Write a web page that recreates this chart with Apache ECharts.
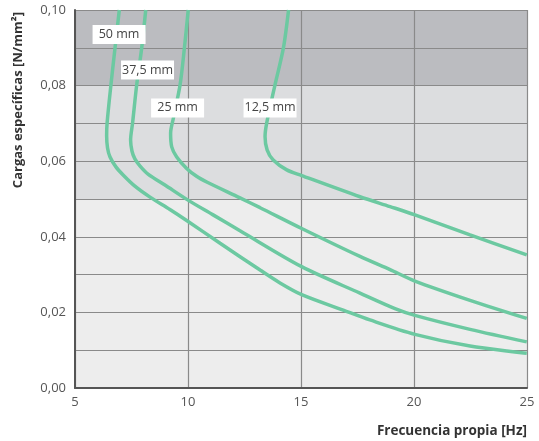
<!DOCTYPE html>
<html>
<head>
<meta charset="utf-8">
<script src="https://cdn.jsdelivr.net/npm/echarts@6/dist/echarts.min.js"></script>
<style>html,body{margin:0;padding:0;background:#fff}#c{width:539px;height:441px}</style>
</head>
<body>
<div id="c"></div>
<script>
// Curve data: [frequency Hz, load N/mm2]
const curve50 = [[6.96,0.1000],[6.77,0.0899],[6.59,0.0802],[6.42,0.0701],[6.40,0.0667],[6.44,0.0635],[6.55,0.0611],[6.81,0.0585],[7.14,0.0563],[7.65,0.0534],[8.32,0.0505],[9.20,0.0472],[9.94,0.0443],[11.42,0.0383],[13.19,0.0312],[14.07,0.0278],[15.03,0.0247],[16.87,0.0206],[18.05,0.0180],[20.04,0.0142],[22.48,0.0111],[24.99,0.0092]];
const curve375 = [[8.13,0.1000],[7.95,0.0899],[7.73,0.0802],[7.55,0.0702],[7.46,0.0656],[7.52,0.0627],[7.65,0.0606],[7.88,0.0587],[8.23,0.0566],[8.98,0.0537],[10.00,0.0497],[11.11,0.0458],[12.30,0.0416],[15.03,0.0321],[17.61,0.0251],[19.16,0.0210],[20.04,0.0192],[22.48,0.0155],[24.99,0.0122]];
const curve25 = [[10.01,0.1000],[9.84,0.0899],[9.65,0.0802],[9.35,0.0713],[9.23,0.0674],[9.28,0.0638],[9.50,0.0611],[9.94,0.0581],[10.38,0.0560],[10.83,0.0545],[12.30,0.0503],[13.19,0.0477],[15.03,0.0422],[17.61,0.0348],[18.94,0.0313],[20.04,0.0283],[22.48,0.0232],[24.99,0.0184]];
const curve125 = [[14.45,0.1000],[14.22,0.0899],[13.85,0.0802],[13.48,0.0700],[13.41,0.0665],[13.50,0.0630],[13.77,0.0603],[14.37,0.0577],[15.03,0.0562],[17.61,0.0506],[18.94,0.0480],[20.04,0.0458],[22.48,0.0405],[24.99,0.0352]];
const curveNames = ['50 mm','37,5 mm','25 mm','12,5 mm'];
const labelPos = [[6.95,0.0935],[8.21,0.0841],[9.54,0.0741],[13.63,0.0741]];
const bands = [[0,0.05,'#ededed'],[0.05,0.08,'#dcdddf'],[0.08,0.10,'#bbbcc0']];
const xTicks = [5,10,15,20,25];
const yTickLabels = ['0,00','0,02','0,04','0,06','0,08','0,10'];

const FONT = "'Open Sans', 'Noto Sans', sans-serif";
const GREEN = '#6cc9a1';
const chart = echarts.init(document.getElementById('c'), null, {renderer:'canvas'});
const curves = [curve50, curve375, curve25, curve125];
const series = [];
series.push({
  type:'custom', z:-5, silent:true,
  data: bands,
  renderItem: function(params, api){
    const cs = params.coordSys;
    const yTop = api.coord([5, api.value(1)])[1];
    const yBot = api.coord([5, api.value(0)])[1];
    return {type:'rect', shape:{x:cs.x, y:yTop, width:cs.width, height:yBot-yTop},
      style:{fill: bands[params.dataIndex][2]}};
  },
  encode:{x:-1, y:[0,1]}
});
curves.forEach((c,i)=>{
  series.push({type:'line', name:curveNames[i], data:c, smooth:0.3, showSymbol:false, symbol:'none',
    lineStyle:{color:GREEN, width:3.5}, z:3});
});
series.push({
  type:'scatter', symbolSize:0, z:5, itemStyle:{opacity:1},
  data: labelPos.map((p,i)=>({value:p, name:curveNames[i]})),
  label:{show:true, position:'inside', formatter: p=>p.name, backgroundColor:'#ffffff',
    width:53, height:19, lineHeight:19, align:'center', verticalAlign:'middle',
    color:'#444', fontSize:12.5, fontFamily:FONT, opacity:1}
});

chart.setOption({
  animation:false,
  grid:{left:75, right:12, top:10, bottom:53, containLabel:false},
  xAxis:{type:'value', min:5, max:25, interval:5,
    axisLine:{show:true, lineStyle:{color:'#555', width:2}},
    axisTick:{show:false},
    axisLabel:{color:'#555', fontSize:13, fontFamily:FONT, margin:8,
      formatter: v => xTicks.includes(v) ? String(v) : ''},
    splitLine:{show:true, lineStyle:{color:'#8a8a8a', width:1.2}},
    name:'Frecuencia propia [Hz]', nameLocation:'end', nameGap:0,
    nameTextStyle:{fontWeight:'bold', fontSize:13.5, color:'#333', fontFamily:FONT,
      align:'right', verticalAlign:'top', padding:[36,0,0,0]}
  },
  yAxis:{type:'value', min:0, max:0.10, interval:0.01,
    axisLine:{show:true, lineStyle:{color:'#555', width:2}},
    axisTick:{show:false},
    axisLabel:{color:'#555', fontSize:13, fontFamily:FONT, margin:9,
      formatter: v => { const k = Math.round(v*100); return k%2===0 ? yTickLabels[k/2] : ''; }},
    splitLine:{show:true, lineStyle:{color:'#8a8a8a', width:1.2}}
  },
  graphic:[{type:'text', left:12, top:12, rotation:Math.PI/2,
    style:{text:'Cargas específicas [N/mm²]', font:"bold 13px 'Open Sans', sans-serif", fill:'#333'}}],
  series: series
});
</script>
</body>
</html>
